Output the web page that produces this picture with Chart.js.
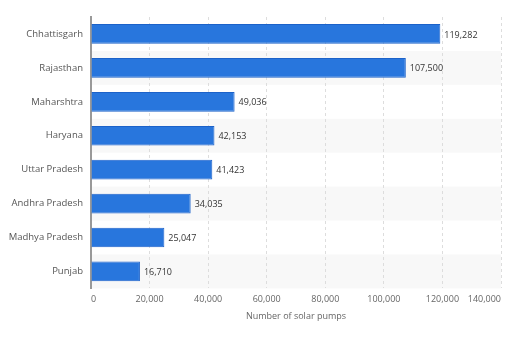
<!DOCTYPE html>
<html>
<head>
<meta charset="utf-8">
<script src="https://cdn.jsdelivr.net/npm/chart.js@4.4.0/dist/chart.umd.min.js"></script>
<style>
  html, body { margin: 0; padding: 0; background: #fff; }
  #wrap { width: 512px; height: 339px; position: relative; }
</style>
</head>
<body>
<div id="wrap"><canvas id="chart"></canvas></div>
<script>
// states and number of solar pumps
const states = ['Chhattisgarh', 'Rajasthan', 'Maharshtra', 'Haryana', 'Uttar Pradesh', 'Andhra Pradesh', 'Madhya Pradesh', 'Punjab'];
const pumps = [119282, 107500, 49036, 42153, 41423, 34035, 25047, 16710];
const xTicks = [0, 20000, 40000, 60000, 80000, 100000, 120000, 140000];
const xTitle = 'Number of solar pumps';

const FONT = '"Open Sans", sans-serif';

// light stripes behind every second row, painted before grid and bars
const stripes = {
    id: 'stripes',
    beforeDraw(chart) {
        const { ctx, chartArea, scales } = chart;
        const y = scales.y;
        if (!y) return;
        const step = y.getPixelForValue(1) - y.getPixelForValue(0);
        ctx.save();
        ctx.fillStyle = '#f8f8f8';
        states.forEach((s, i) => {
            if (i % 2 === 1) {
                const c = y.getPixelForValue(i);
                ctx.fillRect(chartArea.left, c - step / 2, chartArea.right - chartArea.left, step);
            }
        });
        ctx.restore();
    }
};

// value labels at the end of each bar
const valueLabels = {
    id: 'valueLabels',
    afterDatasetsDraw(chart) {
        const { ctx } = chart;
        const meta = chart.getDatasetMeta(0);
        ctx.save();
        ctx.font = '9px ' + FONT;
        ctx.fillStyle = '#333';
        ctx.textBaseline = 'middle';
        ctx.textAlign = 'left';
        meta.data.forEach((bar, i) => {
            ctx.fillText(pumps[i].toLocaleString('en-US'), bar.x + 4, bar.y + 1);
        });
        ctx.restore();
    }
};

new Chart(document.getElementById('chart'), {
    type: 'bar',
    data: {
        labels: states,
        datasets: [{
            data: pumps,
            backgroundColor: '#2876dd',
            borderColor: '#1c62c9',
            borderWidth: 1,
            barPercentage: 0.58,
            categoryPercentage: 1
        }]
    },
    options: {
        indexAxis: 'y',
        responsive: true,
        maintainAspectRatio: false,
        animation: false,
        layout: { padding: { top: 17, right: 11, bottom: 17, left: 0 } },
        plugins: {
            legend: { display: false },
            tooltip: { enabled: false }
        },
        scales: {
            x: {
                min: 0,
                max: 140000,
                afterBuildTicks(scale) {
                    scale.ticks = xTicks.map(v => ({ value: v }));
                },
                ticks: {
                    align: 'inner',
                    color: '#666',
                    font: { family: FONT, size: 9 },
                    padding: 6,
                    callback: v => v.toLocaleString('en-US')
                },
                grid: {
                    color: '#dddddd',
                    drawTicks: false
                },
                border: { display: false, dash: [3, 3] },
                title: {
                    display: true,
                    text: xTitle,
                    color: '#666',
                    font: { family: FONT, size: 9 },
                    padding: { top: 0, bottom: 0 }
                }
            },
            y: {
                afterFit(scale) { scale.width = 91; },
                ticks: {
                    color: '#555',
                    font: { family: FONT, size: 9.5 },
                    padding: 8
                },
                grid: { display: false, drawTicks: false },
                border: { display: true, color: '#999', width: 2 }
            }
        }
    },
    plugins: [stripes, valueLabels]
});
</script>
</body>
</html>
